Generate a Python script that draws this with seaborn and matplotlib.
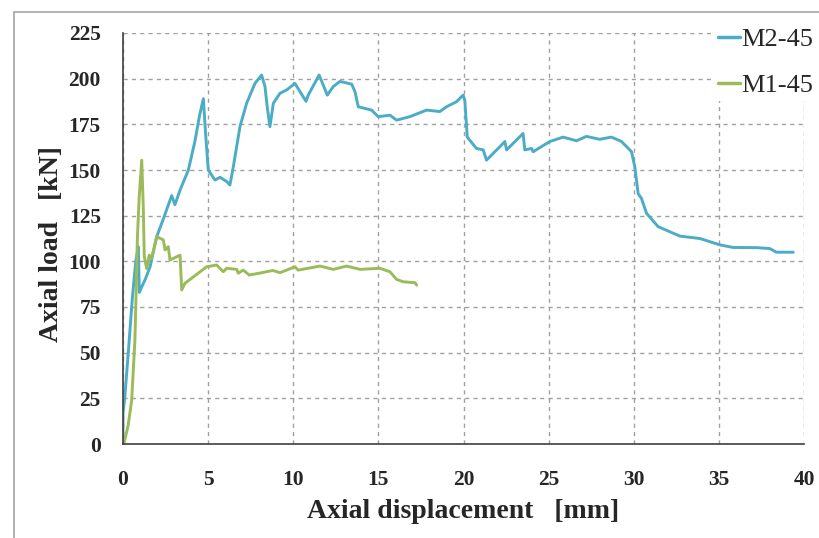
import matplotlib
matplotlib.use("Agg")
import matplotlib.pyplot as plt
import seaborn as sns
import pandas as pd
from matplotlib.patches import Rectangle

# ---- data ----
m2_x = [0.0, 0.0, 0.1, 0.31, 0.55, 0.75, 0.9, 0.96, 1.1, 1.3, 1.59, 1.98, 2.4, 2.86, 3.05, 3.35,
        3.84, 4.23, 4.5, 4.72, 4.85, 5.01, 5.4, 5.7, 6.09, 6.28, 6.48, 6.87, 7.26, 7.75,
        8.14, 8.34, 8.47, 8.63, 8.83, 9.22, 9.61, 10.1, 10.39, 10.75, 10.88, 11.52, 11.76,
        12.0, 12.35, 12.74, 13.43, 13.62, 13.82, 14.6, 14.99, 15.68, 16.07, 16.85, 17.83,
        18.61, 19.0, 19.59, 19.98, 20.08, 20.22, 20.76, 21.16, 21.35, 22.14, 22.43, 22.53,
        23.5, 23.6, 24.0, 24.09, 25.07, 25.85, 26.64, 27.22, 28.0, 28.69, 29.28, 29.87,
        30.06, 30.26, 30.45, 30.75, 31.43, 32.12, 32.71, 33.88, 35.06, 35.84, 37.2, 37.99,
        38.38, 39.37]
m2_y = [0.0, 17.0, 25.0, 50.0, 80.0, 100.0, 108.0, 83.0, 86.0, 90.0, 97.0, 113.5, 124.0, 136.0,
        131.0, 139.0, 150.0, 166.0, 180.0, 189.0, 170.0, 150.0, 144.5, 146.0, 143.7, 141.8,
        151.8, 173.7, 186.5, 197.4, 202.0, 195.7, 184.6, 173.7, 186.5, 192.0, 193.8, 197.4,
        193.0, 187.6, 191.0, 202.0, 196.5, 191.0, 195.7, 198.5, 197.0, 193.0, 184.6, 182.8,
        179.2, 180.0, 177.3, 179.2, 182.8, 182.0, 184.6, 187.4, 191.0, 188.0, 168.0, 161.8,
        161.0, 155.4, 162.8, 165.6, 161.0, 170.0, 161.0, 161.8, 160.0, 165.6, 168.0, 166.0,
        168.4, 166.8, 168.0, 165.6, 160.0, 151.8, 137.0, 134.5, 126.3, 119.0, 116.2, 113.8,
        112.5, 109.0, 107.6, 107.5, 107.0, 105.0, 105.0]

m1_x = [0.0, 0.06, 0.3, 0.51, 0.7, 0.8, 0.84, 0.95, 1.1, 1.19, 1.25, 1.39, 1.54, 1.68,
        1.98, 2.37, 2.47, 2.66, 2.76, 3.35, 3.45, 3.64, 4.91, 5.5, 5.89, 6.09, 6.68, 6.77,
        7.06, 7.42, 8.0, 8.8, 9.22, 10.1, 10.29, 11.57, 12.35, 13.14, 13.92, 15.09, 15.68,
        16.07, 16.46, 17.15, 17.25]
m1_y = [0.0, 0.4, 10.0, 24.0, 57.0, 93.5, 111.7, 135.0, 155.4, 130.0, 102.6, 96.0, 103.4,
        101.6, 113.5, 111.7, 106.2, 108.0, 100.7, 103.4, 84.3, 88.0, 97.0, 98.0, 94.3, 96.2,
        95.6, 93.5, 95.2, 92.5, 93.5, 95.0, 93.8, 97.0, 95.2, 97.4, 95.6, 97.4, 95.6, 96.2,
        94.3, 90.1, 88.8, 88.3, 87.0]

series_names = ["M2-45", "M1-45"]
series_colors = ["#4BACC6", "#9BBB59"]
x_ticks = [0, 5, 10, 15, 20, 25, 30, 35, 40]
y_ticks = [0, 25, 50, 75, 100, 125, 150, 175, 200, 225]

series_data = [(m2_x, m2_y), (m1_x, m1_y)]

sns.set_theme(style="white")
plt.rcParams["font.family"] = ["Liberation Serif", "DejaVu Serif"]

fig = plt.figure(figsize=(8.19, 5.38), dpi=100)
ax = fig.add_axes([123 / 819, 1 - 444 / 538, (804 - 123) / 819, (444 - 33) / 538])

for name, col, (xs, ys) in zip(series_names, series_colors, series_data):
    df = pd.DataFrame({"disp": xs, "load": ys})
    sns.lineplot(data=df, x="disp", y="load", sort=False, estimator=None,
                 color=col, linewidth=2.1, ax=ax, label=name)

ax.set_xlim(0, 40)
ax.set_ylim(0, 225)
ax.set_xticks(x_ticks)
ax.set_yticks(y_ticks)
ax.set_xticklabels([str(t) for t in x_ticks], fontsize=15.5, fontweight="bold")
ax.set_yticklabels([str(t) for t in y_ticks], fontsize=15.5, fontweight="bold")
ax.tick_params(axis="both", direction="out", length=5, width=1, color="#404040")
ax.tick_params(axis="y", pad=11)
ax.tick_params(axis="x", pad=14)

ax.grid(True, color="#a0a0a0", linestyle=(0, (3, 3)), linewidth=1)
ax.set_axisbelow(True)
for s in ["top", "right"]:
    ax.spines[s].set_visible(False)
for s in ["left", "bottom"]:
    ax.spines[s].set_color("#404040")
    ax.spines[s].set_linewidth(1.2)

ax.set_xlabel("Axial displacement   [mm]", fontsize=20, fontweight="bold")
ax.set_ylabel("Axial load   [kN]", fontsize=20, fontweight="bold")
ax.xaxis.set_label_coords(0.5, -0.135)
ax.yaxis.set_label_coords(-0.087, 0.487)

leg = ax.legend(loc="upper left", bbox_to_anchor=(714 / 819, 1 - 24 / 538),
                bbox_transform=fig.transFigure, frameon=True, fontsize=19,
                handlelength=0.85, handletextpad=0.05, labelspacing=0.85,
                borderpad=0.15, borderaxespad=0)
leg.get_frame().set_facecolor("white")
leg.get_frame().set_edgecolor("none")
leg.get_frame().set_alpha(1.0)
for h in leg.get_lines():
    h.set_linewidth(2.5)

fig.patches.append(Rectangle((14 / 819, -0.1), 2.0, 1 - 12 / 538 + 0.1,
                             transform=fig.transFigure, fill=False,
                             edgecolor="#a6a6a6", linewidth=1.2, clip_on=False))

fig.savefig("out.png", dpi=100)
